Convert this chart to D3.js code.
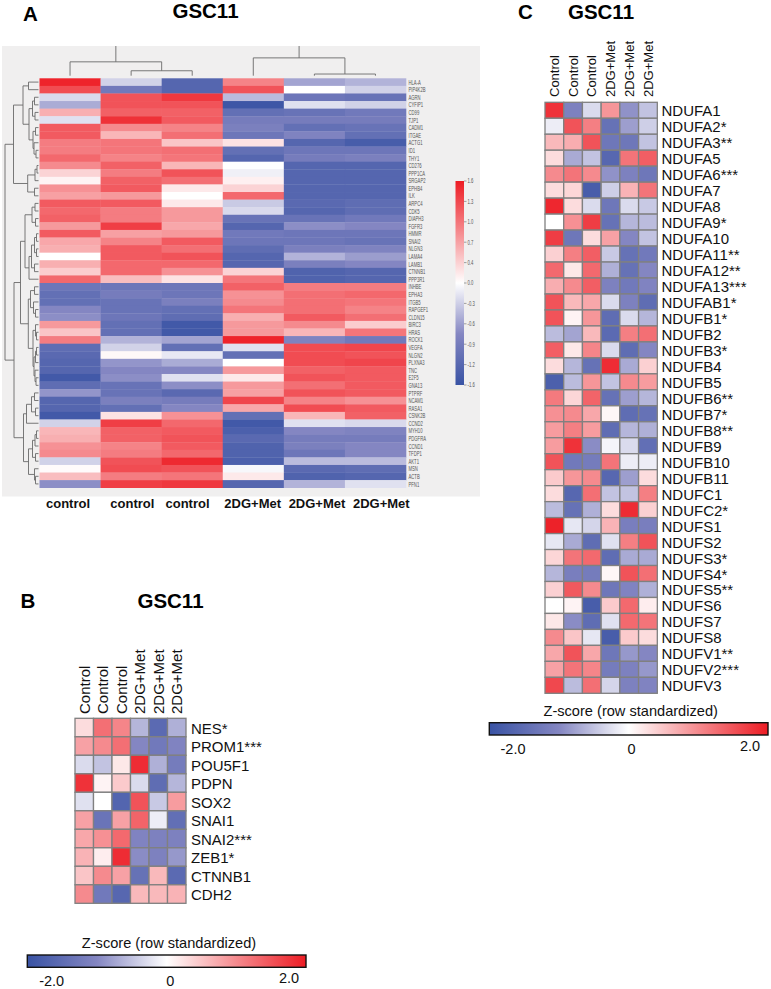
<!DOCTYPE html>
<html><head><meta charset="utf-8">
<script src="https://cdnjs.cloudflare.com/ajax/libs/d3/7.8.5/d3.min.js"></script>
<style>html,body{margin:0;padding:0;background:#fff}svg{display:block}text{font-family:"Liberation Sans",Arial,sans-serif}</style>
</head><body><svg id="c" width="771" height="989"></svg>
<script>
// ---------- Panel A data ----------
const aColumns=["control","control","control","2DG+Met","2DG+Met","2DG+Met"];
const aGenes=["HLA-A","PIP4K2B","AGRN","CYFIP1","CD99","TJP1","CADM1","ITGAE","ACTG1","ID1","THY1","CD276","PPP1CA","SRGAP2","EPHB4","ILK","ARPC4","CDK5","DIAPH3","FGFR3","HMMR","SNAI2","NLGN3","LAMA4","LAMB1","CTNNB1","PPP3R1","INHBE","EPHA3","ITGB5","RAPGEF1","CLDN15","BIRC3","HRAS","ROCK1","VEGFA","NLGN2","PLXNA3","TNC","E2F5","GNA13","PTPRF","NCAM1","RASA1","CSNK2B","CCND2","MYH10","PDGFRA","CCND1","TFDP1","AKT1","MSN","ACTB","PFN1"];
const aValues=[
[1.55,-0.3,-1.3,0.85,-0.6,-0.5],[1.25,-1.0,-1.3,1.2,0,-0.3],[-0.25,1.2,1.4,-0.45,-1.05,-1.1],[-0.55,1.2,1.2,-1.55,-0.2,-0.3],
[0.55,1.1,1.1,-1.15,-1.1,-1.0],[-0.2,1.45,1.15,-0.95,-0.95,-0.95],[1.15,0.8,0.85,-0.9,-1.15,-1.1],[1.15,0.5,1.0,-1.05,-0.85,-1.15],
[0.9,0.95,0.4,0.2,-1.3,-1.45],[0.9,0.95,1.0,-1.15,-1.05,-1.05],[1.05,0.85,0.95,-1.3,-0.95,-0.9],[0.8,1.1,0.5,0,-1.3,-1.3],
[0.3,0.9,1.2,-0.1,-1.3,-1.3],[0.08,1.1,1.0,0.1,-1.3,-1.3],[0.75,1.15,0.15,0.3,-1.3,-1.3],[0.65,0.7,0,1.05,-1.3,-1.3],
[1.15,1.15,0.15,-0.35,-1.25,-1.2],[1.05,0.9,0.7,-0.25,-1.3,-1.2],[1.1,0.9,0.7,-1.1,-1.1,-1.0],[0.7,1.35,0.6,-1.3,-0.75,-0.8],
[1.15,0.65,0.7,-1.0,-1.05,-1.05],[0.6,0.85,1.15,-1.05,-1.05,-1.1],[0.55,1.15,1.0,-1.2,-0.9,-0.85],[0,1.15,1.2,-1.3,-0.5,-0.65],
[0.55,1.05,1.05,-1.3,-0.9,-0.8],[0.35,1.05,0.75,0.3,-1.35,-1.3],[1.05,0.45,0.2,0.95,-1.35,-1.3],
[-1.05,-1.05,-1.05,1.1,0.9,0.9],[-1.15,-0.95,-1.05,0.75,1.0,1.05],[-1.15,-1.1,-0.9,0.8,1.0,0.95],[-0.8,-1.1,-1.15,0.95,1.0,0.85],
[-0.75,-1.05,-1.2,0.55,1.15,1.0],[0.7,-1.15,-1.5,0.7,0.8,0.35],[0.4,-1.15,-1.5,0.7,0.5,0.95],[0.9,-0.5,-0.6,1.55,-0.85,-1.0],
[-1.2,-0.3,-1.15,-0.2,1.25,1.3],[-1.25,0.05,-0.15,-1.15,1.25,1.2],[-1.3,-0.7,-0.55,0,1.25,1.3],[-1.3,-0.8,-0.8,0.7,1.1,1.15],
[-1.5,-0.75,-0.2,0.15,1.2,1.15],[-1.2,-1.1,-0.75,0.7,1.0,1.15],[-0.7,-1.1,-1.25,0.65,1.2,1.15],[-1.3,-0.9,-0.95,1.3,0.85,0.75],
[-1.3,-1.15,-0.8,0.6,1.25,1.15],[-1.5,0.2,0.75,-1.15,0.5,1.1],[-0.3,1.35,1.05,-1.5,-0.2,-0.25],[0.5,1.1,1.15,-1.4,-0.8,-0.85],
[0.55,1.1,1.2,-1.25,-0.95,-0.95],[0.75,0.85,1.15,-1.35,-0.9,-0.8],[0.8,0.9,1.05,-1.35,-1.05,-0.8],[-0.3,1.2,1.5,-1.4,-0.45,-0.45],
[0.03,1.25,1.2,-0.05,-1.25,-1.2],[0.45,0.9,0.95,0.15,-1.35,-1.3],[-0.75,1.35,1.4,-1.3,-0.5,-0.2]];
const aLegendTicks=["1.6","1.3","1.0","0.7","0.4","0.0","-0.3","-0.6","-0.9","-1.2","-1.6"];
// Row dendrogram: [height, child, child]; 0 marks a leaf, leaves taken in row order
const rowTree=[33.5,
 [25,[15.5,[10,0,0],[9.5,[6,[4,0,0],[3.5,0,0]],[5.5,[3,0,0],[4.5,0,[2.5,0,0]]]]],
     [10.8,[3.5,[1.5,0,0],0],[4,0,0]]],
 [24.5,[18,[13.5,[6.5,[3.5,0,0],[3,0,0]],[9.5,[7,[4,[2,0,0],[2,0,0]],[4,0,0]],0]],
           [10.2,[8,[4,0,0],[5,0,[3,0,0]]],[5.5,[3,0,[2,0,0]],[4.5,[3,[2,0,0],0],[3.5,0,[2.5,0,0]]]]]],
       [15,[12,[7,[4,0,0],[3,0,0]],0],[10,[6,[3.5,[2,0,0],0],[3,0,0]],[4,0,[3,0,0]]]]]];
// Column dendrogram, same form
const colTree=[30,[14,0,[5,0,0]],[18,0,[1.7,0,0]]];

// ---------- Panel B data ----------
const bColumns=["Control","Control","Control","2DG+Met","2DG+Met","2DG+Met"];
const bGenes=["NES*","PROM1***","POU5F1","PDPN","SOX2","SNAI1","SNAI2***","ZEB1*","CTNNB1","CDH2"];
const bValues=[[0.3,1.25,1.05,-0.6,-1.55,-0.65],[0.8,1.0,1.25,-1.0,-1.25,-1.05],[-0.3,-0.5,0.2,1.85,-0.65,-1.2],[1.8,0.1,0.45,-0.3,-1.5,-0.6],[-0.25,0,-1.65,1.5,-0.45,0.85],[0.8,-1.35,0.8,1.35,-0.15,-1.45],[0.75,0.95,1.3,-1.05,-1.1,-1.1],[0.65,0.15,1.85,-0.95,-1.1,-0.85],[0.5,1.0,0.8,-1.4,0.6,-1.55],[1.0,-1.25,-1.6,0.6,0.6,0.65]];

// ---------- Panel C data ----------
const cGenes=["NDUFA1","NDUFA2*","NDUFA3**","NDUFA5","NDUFA6***","NDUFA7","NDUFA8","NDUFA9*","NDUFA10","NDUFA11**","NDUFA12**","NDUFA13***","NDUFAB1*","NDUFB1*","NDUFB2","NDUFB3*","NDUFB4","NDUFB5","NDUFB6**","NDUFB7*","NDUFB8**","NDUFB9","NDUFB10","NDUFB11","NDUFC1","NDUFC2*","NDUFS1","NDUFS2","NDUFS3*","NDUFS4*","NDUFS5**","NDUFS6","NDUFS7","NDUFS8","NDUFV1**","NDUFV2***","NDUFV3"];
const cValues=[[1.8,-1.1,-0.3,0.9,-0.9,-0.5],[-0.15,1.5,1.1,-1.4,-0.8,-0.4],[0.6,0.7,1.5,-1.3,-1.3,-0.5],[0.3,-0.7,-0.5,-1.6,1.2,1.4],[1.0,1.2,1.0,-0.9,-1.1,-1.3],[0.3,0.35,-1.8,-0.4,0.65,1.2],[1.9,0.3,-0.3,-1.3,-0.3,-0.45],[0,0.95,1.7,-1.4,-0.6,-0.55],[1.7,-1.3,0.3,0.8,-1.0,-0.5],[0.4,1.1,1.4,-0.45,-1.4,-1.25],[1.3,0.2,1.3,-0.65,-1.4,-1.0],[0.7,1.0,1.4,-1.1,-1.25,-1.05],[1.5,0.6,0.75,-0.3,-1.1,-1.5],[1.5,0.1,0.9,-1.5,-0.3,-0.6],[-0.55,-0.75,0.6,-1.55,1.1,1.25],[1.4,0.2,1.05,-0.3,-1.5,-1.0],[0.3,-0.6,-1.4,1.85,-0.7,0.4],[-1.75,-0.55,0.9,-0.5,1.0,0.85],[1.15,0.35,1.35,-1.4,-0.8,-0.6],[0.95,1.0,0.75,0.08,-1.5,-1.4],[0.85,1.1,0.85,-1.5,-0.6,-0.65],[0.85,1.8,-0.95,-0.08,-0.3,-1.45],[1.5,-1.25,-1.2,1.2,-0.15,-0.15],[0.45,0.9,1.0,-1.6,-0.8,0.3],[0.3,-1.6,1.25,-0.5,-0.5,1.1],[-0.55,-1.4,-0.65,0.3,1.85,0.4],[1.95,-0.2,-0.35,0.65,-1.15,-1.15],[-0.2,-0.7,-1.5,-0.25,1.1,1.5],[0.35,1.2,1.3,-1.5,-0.7,-0.7],[-0.6,-1.15,-1.2,0.08,1.5,1.25],[0.4,1.45,1.0,-1.3,-1.05,-0.65],[0,0.1,-1.8,0.45,1.3,0.15],[0.2,-0.95,-1.5,-0.25,1.3,1.2],[1.0,0.5,-0.2,-1.8,0.45,0.3],[0.75,1.5,0.75,-1.3,-0.85,-1.0],[0.8,1.2,1.05,-1.2,-1.1,-0.85],[1.6,-0.55,1.25,-0.35,-1.1,-1.05]];
const zTickValues=[-2,0,2];
const zTickLabels=["-2.0","0","2.0"];

// ---------- Drawing ----------
const STOPS=["#3953a4","#8486c2","#ffffff","#f58a8e","#ed1c24"];
const colorA=d3.scaleLinear().domain([-1.6,-0.8,0,0.8,1.6]).range(STOPS);
const colorZ=d3.scaleLinear().domain([-2,-1,0,1,2]).range(STOPS);
const svg=d3.select("#c");
const idx=n=>d3.range(n);

function text(x,y,s,size,opt={}){
  return svg.append("text").attr("x",x).attr("y",y).attr("font-size",size)
   .attr("font-weight",opt.bold?"bold":null).attr("text-anchor",opt.anchor||"start")
   .attr("fill",opt.fill||"#111").text(s);
}
// panel letters and titles
[["A",23,20.7],["B",20.5,608],["C",518,19]].forEach(d=>text(d[1],d[2],d[0],20.5,{bold:true,fill:"#000"}));
[[205.5,18.3],[170.5,608],[601,19]].forEach(d=>text(d[0],d[1],"GSC11",20.5,{bold:true,anchor:"middle",fill:"#000"}));

// ----- Panel A -----
svg.append("rect").attr("x",2).attr("y",46).attr("width",478).attr("height",450.5).attr("fill","#f0efef");
const ax=d3.scaleBand().domain(idx(6)).range([39.5,406]);
const ay=d3.scaleBand().domain(idx(aGenes.length)).range([78.3,487.7]);
const ga=svg.append("g");
ga.selectAll("g").data(aValues).join("g").attr("transform",(d,i)=>`translate(0,${ay(i)})`)
 .selectAll("rect").data(d=>d).join("rect")
 .attr("x",(d,j)=>ax(j)).attr("width",ax.bandwidth()+0.3).attr("height",ay.bandwidth()+0.3).attr("fill",d=>colorA(d));
ga.selectAll("text").data(aGenes).join("text")
 .attr("transform",(d,i)=>`translate(408.5,${ay(i)+ay.bandwidth()/2+2.6}) scale(0.6,1)`)
 .attr("font-size",7).attr("fill","#555").text(d=>d);
aColumns.forEach((c,i)=>text([68,132.3,187.5,252.7,317,381.3][i],508,c,13,{bold:true,anchor:"middle"}));

function layout(tree,pos){
  const root=d3.hierarchy(tree,d=>Array.isArray(d)?d.slice(1):null);
  let k=0;root.eachAfter(n=>{n.p=n.children?d3.mean(n.children,c=>c.p):pos(k++);n.h=n.children?n.data[0]:0;});
  return root;
}
const rowH=d3.scaleLinear().domain([0,33.5]).range([38.5,5]);
const rt=layout(rowTree,i=>ay(i)+ay.bandwidth()/2);
const rp=d3.path();
rt.each(n=>{if(!n.children)return;
  const [a,b]=n.children,x=rowH(n.h);
  rp.moveTo(rowH(a.h),a.p);rp.lineTo(x,a.p);rp.lineTo(x,b.p);rp.lineTo(rowH(b.h),b.p);});
svg.append("path").attr("d",rp.toString()).attr("fill","none").attr("stroke","#6a6a6a").attr("stroke-width",0.9);

const colH=d3.scaleLinear().domain([0,30]).range([75.7,46]);
const ct=layout(colTree,i=>ax(i)+ax.bandwidth()/2);
const cp=d3.path();
ct.each(n=>{if(!n.children)return;
  const [a,b]=n.children,y=colH(n.h);
  if(n.depth===0){cp.moveTo(a.p,colH(a.h));cp.lineTo(a.p,y);cp.moveTo(b.p,colH(b.h));cp.lineTo(b.p,y);return;}
  cp.moveTo(a.p,colH(a.h));cp.lineTo(a.p,y);cp.lineTo(b.p,y);cp.lineTo(b.p,colH(b.h));});
svg.append("path").attr("d",cp.toString()).attr("fill","none").attr("stroke","#6a6a6a").attr("stroke-width",0.9);

// vertical colour key of panel A
const defs=svg.append("defs");
function grad(id,scale,dom,x2,y2){
  const g=defs.append("linearGradient").attr("id",id).attr("x1",0).attr("y1",0).attr("x2",x2).attr("y2",y2);
  dom.forEach((v,i)=>g.append("stop").attr("offset",i/(dom.length-1)).attr("stop-color",scale(v)));
}
grad("ka",colorA,[1.6,0.8,0,-0.8,-1.6],0,1);
grad("kz",colorZ,[-2,-1,0,1,2],1,0);
const kaY=d3.scalePoint().domain(aLegendTicks).range([181,385]);
svg.append("rect").attr("x",455.5).attr("y",181).attr("width",8.5).attr("height",204).attr("fill","url(#ka)");
const ka=svg.append("g").selectAll("g").data(aLegendTicks).join("g").attr("transform",d=>`translate(0,${kaY(d)})`);
ka.append("line").attr("x1",464).attr("x2",466.5).attr("stroke","#666").attr("stroke-width",0.6);
ka.append("text").attr("transform","translate(467.5,2.4) scale(0.6,1)").attr("font-size",7).attr("fill","#555").text(d=>d);

// ----- Panels B and C -----
function grid(opt){
  const x=d3.scaleBand().domain(idx(6)).range(opt.xr);
  const y=d3.scaleBand().domain(idx(opt.genes.length)).range(opt.yr);
  const g=svg.append("g");
  g.append("rect").attr("x",opt.xr[0]).attr("y",opt.yr[0]).attr("width",opt.xr[1]-opt.xr[0]).attr("height",opt.yr[1]-opt.yr[0]).attr("fill","#808080");
  g.selectAll("g").data(opt.values).join("g").attr("transform",(d,i)=>`translate(0,${y(i)})`)
   .selectAll("rect").data(d=>d).join("rect")
   .attr("x",(d,j)=>x(j)).attr("width",x.bandwidth()).attr("height",y.bandwidth())
   .attr("fill",d=>colorZ(d)).attr("stroke","#808080").attr("stroke-width",1.3);
  svg.append("g").selectAll("text").data(opt.genes).join("text").attr("x",opt.labelX)
   .attr("y",(d,i)=>y(i)+y.bandwidth()/2+opt.size*0.36+0.6).attr("font-size",opt.size).attr("fill","#111").text(d=>d);
  svg.append("g").selectAll("text").data(bColumns).join("text")
   .attr("transform",(d,j)=>`translate(${x(j)+x.bandwidth()/2+opt.colSize*0.36},${opt.colY}) rotate(-90)`)
   .attr("font-size",opt.colSize).attr("fill","#111").text(d=>d);
}
grid({genes:bGenes,values:bValues,xr:[75,186],yr:[718.3,903.3],labelX:191,size:15,colSize:15,colY:714});
grid({genes:cGenes,values:cValues,xr:[545,657.3],yr:[102.3,693.3],labelX:661.5,size:15,colSize:13,colY:97});

function zKey(o){
  const s=d3.scaleLinear().domain([-2,2]).range(o.tick);
  svg.append("rect").attr("x",o.x0).attr("y",o.y).attr("width",o.x1-o.x0).attr("height",o.h).attr("fill","url(#kz)").attr("stroke","#111").attr("stroke-width",1.4);
  text(o.titleX,o.titleY,"Z-score (row standardized)",14.6,{anchor:"middle"});
  zTickValues.forEach((v,i)=>text(s(v),i===2?o.base-3:o.base,zTickLabels[i],14.5,{anchor:"middle"}));
}
zKey({x0:27.3,x1:306,y:955,h:12.3,tick:[51.7,289],titleX:169,titleY:948,base:985.7});
zKey({x0:489.3,x1:768,y:722.7,h:12.3,tick:[513,750],titleX:630.7,titleY:716,base:754});
</script></body></html>
